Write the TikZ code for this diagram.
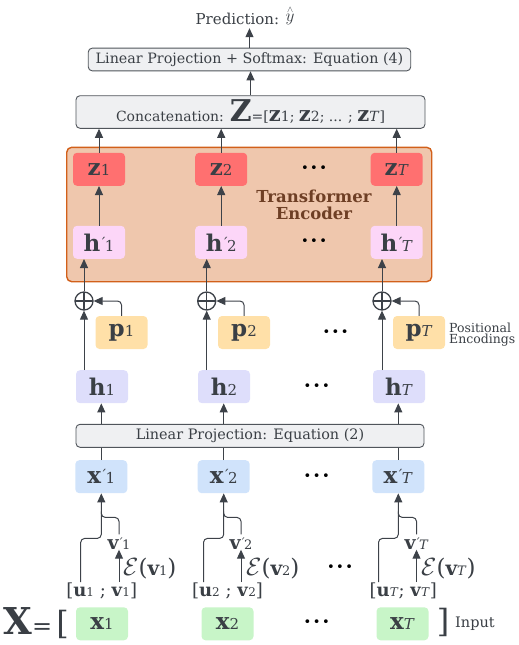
\documentclass[tikz,border=0pt]{standalone}
\usepackage{fontspec}
\setmainfont{DejaVu Serif}
\usetikzlibrary{arrows.meta,calc}
\definecolor{txt}{HTML}{3A3F45}
\definecolor{lc}{HTML}{3D4249}
\definecolor{zred}{HTML}{FF7070}
\definecolor{hpink}{HTML}{FCD6F8}
\definecolor{encfill}{HTML}{EFC7AD}
\definecolor{encdraw}{HTML}{D2601A}
\definecolor{encbrown}{HTML}{6E3F25}
\definecolor{porange}{HTML}{FFE0A8}
\definecolor{hlav}{HTML}{DEDEFB}
\definecolor{xpblue}{HTML}{D0E3FB}
\definecolor{xgreen}{HTML}{C8F5C8}
\definecolor{gfill}{HTML}{EFF0F2}
\definecolor{gdraw}{HTML}{50555B}
\newcommand\fs[1]{\fontsize{#1}{#1}\selectfont}
\newcommand\bl[1]{{\fs{23}\bfseries #1}}
\newcommand\subs[1]{{\fs{15}#1}}
\newcommand\Ti{\textit{T}}
\newcommand\acc{\kern-1pt\raisebox{3pt}{\fs{14}´}\kern-1.5pt}
\newcommand\accs{\kern-1pt\raisebox{2pt}{\fs{12}´}\kern-1.5pt}
\newcommand\dotsr{{\fs{13}\textbullet\kern1.5pt\textbullet\kern1.5pt\textbullet}}
\tikzset{
  box/.style={rounded corners=4pt, minimum width=52pt, minimum height=33pt, inner sep=0pt, text=txt},
  zbox/.style={box, fill=zred},
  hpbox/.style={box, fill=hpink},
  pbox/.style={box, fill=porange},
  hbox/.style={box, fill=hlav},
  xpbox/.style={box, fill=xpblue},
  xbox/.style={box, fill=xgreen},
  gbox/.style={draw=gdraw, fill=gfill, rounded corners=4pt, line width=0.9pt, inner sep=0pt, text=txt},
  lbl/.style={inner sep=0pt, text=txt},
  dotn/.style={inner sep=0pt, text=black},
  arr/.style={draw=lc, line width=1pt, -{Triangle[length=9pt,width=8pt]}},
  ln/.style={draw=lc, line width=1pt},
  oplus/.style={circle, draw=lc, line width=1.3pt, minimum size=18pt, inner sep=0pt,
    path picture={\draw[lc, line width=1.3pt] (path picture bounding box.north) -- (path picture bounding box.south)
      (path picture bounding box.west) -- (path picture bounding box.east);}},
}
\begin{document}
\begin{tikzpicture}[x=1pt,y=-1pt]
\useasboundingbox (0,0) rectangle (519,645);
% encoder background
\node[draw=encdraw, fill=encfill, line width=1.4pt, rounded corners=5pt, minimum width=365pt, minimum height=134.4pt, inner sep=0pt] (enc) at (249.2,214.5) {};
\node[lbl, text=encbrown, align=center, font=\fs{16.5}\bfseries] (enclbl) at (314,205) {Transformer\\[1pt]Encoder};
% top
\node[lbl, font=\fs{15}, text height=16pt, text depth=4pt] (pred) at (245,18) {Prediction: {\fs{19}$\stackrel{\scriptscriptstyle\wedge}{y}$}};
\node[gbox, minimum width=322.5pt, minimum height=22.7pt, font=\fs{14.3}] (lp4) at (249.5,59.5) {Linear Projection + Softmax: Equation (4)};
\node[gbox, minimum width=349pt, minimum height=32.6pt, font=\fs{14}] (concat) at (250.5,112) {Concatenation: {\fs{30}\bfseries Z}=[{\fs{21}\bfseries z}{\fs{14}1}; {\fs{21}\bfseries z}{\fs{14}2}; ... ; {\fs{21}\bfseries z}{\fs{14}\Ti}]};
% z row
\node[zbox] (z1) at (99,169.3) {\bl{z}\subs{1}};
\node[zbox] (z2) at (221.2,169.3) {\bl{z}\subs{2}};
\node[zbox] (zT) at (396.7,169.3) {\bl{z}\subs{\Ti}};
\node[dotn] (dz) at (314,169.3) {\dotsr};
% h' row
\node[hpbox] (hp1) at (99,242.3) {\bl{h}\acc\subs{1}};
\node[hpbox] (hp2) at (221.2,242.3) {\bl{h}\acc\subs{2}};
\node[hpbox] (hpT) at (396.7,242.3) {\bl{h}\acc\subs{\Ti}};
\node[dotn] (dhp) at (314,241.7) {\dotsr};
% oplus
\node[oplus] (o1) at (84,301) {};
\node[oplus] (o2) at (206.7,301) {};
\node[oplus] (oT) at (382,301) {};
% p row
\node[pbox] (p1) at (121.5,332.5) {\bl{p}\subs{1}};
\node[pbox] (p2) at (244,332.5) {\bl{p}\subs{2}};
\node[pbox] (pT) at (419,332.5) {\bl{p}\subs{\Ti}};
\node[dotn] (dp) at (335.5,332.7) {\dotsr};
\node[lbl, anchor=west, align=left, font=\fs{12.5}] (pelbl) at (449,334.5) {Positional\\[-1pt]Encodings};
% h row
\node[hbox] (h1) at (102,386.7) {\bl{h}\subs{1}};
\node[hbox] (h2) at (224,386.7) {\bl{h}\subs{2}};
\node[hbox] (hT) at (399,386.7) {\bl{h}\subs{\Ti}};
\node[dotn] (dh) at (316.7,386.7) {\dotsr};
% lp2
\node[gbox, minimum width=348pt, minimum height=23pt, font=\fs{14.4}] (lp2) at (250,435.8) {Linear Projection: Equation (2)};
% x' row
\node[xpbox] (xp1) at (101.3,476.7) {\bl{x}\acc\subs{1}};
\node[xpbox] (xp2) at (223.7,476.7) {\bl{x}\acc\subs{2}};
\node[xpbox] (xpT) at (398.3,476.7) {\bl{x}\acc\subs{\Ti}};
\node[dotn] (dxp) at (316.7,476.7) {\dotsr};
% v' labels
\node[lbl, text height=15pt, text depth=0pt] (vp1) at (119,542) {{\fs{19}\bfseries v}\accs{\fs{13}1}};
\node[lbl, text height=15pt, text depth=0pt] (vp2) at (241,542) {{\fs{19}\bfseries v}\accs{\fs{13}2}};
\node[lbl, text height=15pt, text depth=0pt] (vpT) at (416.5,542) {{\fs{19}\bfseries v}\accs{\fs{13}\Ti}};
% E labels
\node[lbl, anchor=west, text height=15pt, text depth=4pt] (e1) at (123,570) {{\fs{23}$\mathcal{E}$(}{\fs{20}\bfseries v}{\fs{13}1}{\fs{23})}};
\node[lbl, anchor=west, text height=15pt, text depth=4pt] (e2) at (246,570) {{\fs{23}$\mathcal{E}$(}{\fs{20}\bfseries v}{\fs{13}2}{\fs{23})}};
\node[lbl, anchor=west, text height=15pt, text depth=4pt] (eT) at (421,570) {{\fs{23}$\mathcal{E}$(}{\fs{20}\bfseries v}{\fs{13}\Ti}{\fs{23})}};
\node[dotn] (de) at (340,568) {\dotsr};
% [u;v] labels
\node[lbl, text height=12pt, text depth=3pt] (uv1) at (101.7,592) {{\fs{18}[\textbf{u}}{\fs{12}1}{\fs{18} ; \textbf{v}}{\fs{12}1}{\fs{18}]}};
\node[lbl, text height=12pt, text depth=3pt] (uv2) at (227.5,592) {{\fs{18}[\textbf{u}}{\fs{12}2}{\fs{18} ; \textbf{v}}{\fs{12}2}{\fs{18}]}};
\node[lbl, text height=12pt, text depth=3pt] (uvT) at (403.3,592) {{\fs{18}[\textbf{u}}{\fs{12}\Ti}{\fs{18}; \textbf{v}}{\fs{12}\Ti}{\fs{18}]}};
% x row
\node[xbox] (x1) at (102,623.8) {\bl{x}\subs{1}};
\node[xbox] (x2) at (227.5,623.8) {\bl{x}\subs{2}};
\node[xbox] (xT) at (402.5,623.8) {\bl{x}\subs{\Ti}};
\node[dotn] (dx) at (316.7,623.3) {\dotsr};
\node[lbl, anchor=east] (Xeq) at (69,623) {{\fs{37}\bfseries X}{\fs{24}=}\kern4pt{\fs{32}[}};
\node[lbl] (rbr) at (443,622) {\fs{32}]};
\node[lbl, anchor=west, font=\fs{14.5}] (inlbl) at (455,624) {Input};
% coordinates for branch starts
\coordinate (l1) at (80.7,582); \coordinate (l2) at (203.5,582); \coordinate (lT) at (378.5,582);
\coordinate (r1) at (119,582); \coordinate (r2) at (241,582); \coordinate (rT) at (416.5,582);
% arrows top
\draw[arr] (lp4.north) -- (lp4.north |- pred.south);
\draw[arr] (concat.north) -- (concat.north |- lp4.south);
\foreach \n in {1,2,T}{
  \draw[arr] (z\n.north) -- (z\n.north |- concat.south);
  \draw[arr] (hp\n.north) -- (z\n.south);
  \draw[arr] (o\n.north) -- (o\n |- hp\n.south);
  \draw[arr, rounded corners=4pt] (p\n.north) |- (o\n.east);
  \draw[arr] (o\n |- h\n.north) -- (o\n.south);
  \draw[arr] (lp2.north -| xp\n) -- (h\n.south -| xp\n);
  \draw[ln] (xp\n.north) -- (xp\n.north |- lp2.south);
  \draw[arr, rounded corners=4pt] (l\n) |- ($(xp\n.south)+(0,45)$) -- (xp\n.south);
  \draw[ln, rounded corners=4pt] (vp\n.north) |- ($(xp\n.south)+(0,24)$) -- ($(xp\n.south)+(0,18)$);
  \draw[arr] (r\n) -- (vp\n.south);
}
\end{tikzpicture}
\end{document}
